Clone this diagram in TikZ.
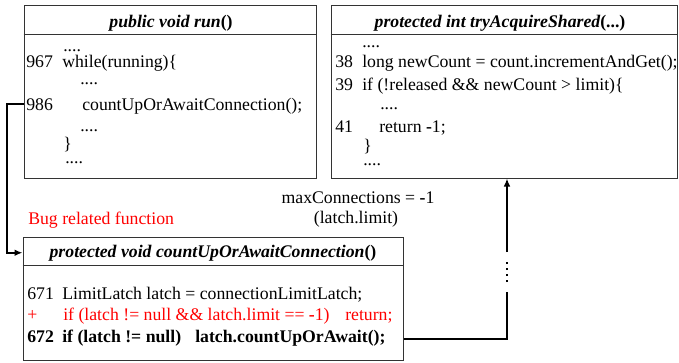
\documentclass[tikz,border=0pt]{standalone}
\usepackage{fontspec}
\setmainfont{Liberation Serif}
\usetikzlibrary{arrows.meta,calc}
\newcommand{\codesize}{\fontsize{13.3}{15}\selectfont}
\begin{document}
\begin{tikzpicture}[x=0.75pt,y=-0.75pt,
  box/.style={draw=black!80, line width=0.75pt, inner sep=0pt},
  rule/.style={draw=black!80, line width=0.75pt},
  code/.style={anchor=base west, inner sep=0pt, font=\codesize},
  boldcode/.style={code, font=\codesize\bfseries},
  hdr/.style={anchor=base, inner sep=0pt, font=\codesize\bfseries},
  lbl/.style={anchor=base, inner sep=0pt, font=\codesize},
  redtext/.style={text=red},
  wire/.style={line width=1.2pt, black},
  conn/.style={wire, -{Latex[length=6pt,width=5pt]}},
  dotwire/.style={line width=1.5pt, dash pattern=on 1.5pt off 3pt}
]
\useasboundingbox (0,0) rectangle (679,362);

% boxes
\node[box, minimum width=219pt, minimum height=129.75pt] (box1) at (170,91.5) {};
\node[box, minimum width=259.5pt, minimum height=129.75pt] (box2) at (504,91.5) {};
\node[box, minimum width=285pt, minimum height=92.25pt] (box3) at (213,298.5) {};
\draw[rule] ($(box1.north west)+(0,29.5)$) -- ($(box1.north east)+(0,29.5)$);
\draw[rule] ($(box2.north west)+(0,29.5)$) -- ($(box2.north east)+(0,29.5)$);
\draw[rule] ($(box3.north west)+(0,29)$) -- ($(box3.north east)+(0,29)$);

% headers
\node[hdr] (hdr1) at (171,27) {\itshape public void run\upshape()};
\node[hdr] (hdr2) at (500,27) {\itshape protected int tryAcquireShared\upshape(...)};
\node[hdr] (hdr3) at (213,257) {\itshape protected void countUpOrAwaitConnection\upshape()};

% box 1 code
\node[code] (a1) at (63,51) {....};
\node[code] (n967) at (26,67) {967};
\node[code] (a2) at (62,67) {while(running)\{};
\node[code] (a3) at (80,84) {....};
\node[code] (n986) at (26,110) {986};
\node[code] (a4) at (82,110) {countUpOrAwaitConnection();};
\node[code] (a5) at (80,131) {....};
\node[code] (a6) at (63,149) {\}};
\node[code] (a7) at (65,163) {....};

% box 2 code
\node[code] (b1) at (362,47) {....};
\node[code] (n38) at (335,67) {38};
\node[code] (b2) at (362,67) {long newCount = count.incrementAndGet();};
\node[code] (n39) at (335,90) {39};
\node[code] (b3) at (362,90) {if (!released \&\& newCount > limit)\{};
\node[code] (b4) at (380,109) {....};
\node[code] (n41) at (335,132) {41};
\node[code] (b5) at (379,132) {return {\bfseries -}1;};
\node[code] (b6) at (363,151) {\}};
\node[code] (b7) at (363,165) {....};

% box 3 code
\node[code] (n671) at (27,299) {671};
\node[code] (c1) at (62,299) {LimitLatch latch = connectionLimitLatch;};
\node[code, redtext] (plus) at (27,320) {+};
\node[code, redtext] (c2) at (63,320) {if (latch != null \&\& latch.limit == {\bfseries -}1)};
\node[code, redtext] (c3) at (345,320) {return;};
\node[boldcode] (n672) at (27,342) {672};
\node[boldcode] (c4) at (62,342) {if (latch != null)};
\node[boldcode] (c5) at (195,342) {latch.countUpOrAwait();};

% labels
\node[code, redtext] (bug) at (28,224) {Bug related function};
\node[lbl] (mc) at (358,203) {maxConnections = {\bfseries -}1};
\node[lbl] (ll) at (356,223) {(latch.limit)};

% left connector
\coordinate (lx) at (7,0);
\draw[conn] (box1.west |- n986) -- (lx |- n986) -- (lx |- hdr3) -- (box3.west |- hdr3);

% right connector
\coordinate (rc) at (507,339);
\coordinate (gapA) at (507,292);
\coordinate (dotA) at (507,282);
\coordinate (dotB) at (507,261);
\coordinate (gapB) at (507,252);
\draw[wire] (box3.east |- rc) -- (rc) -- (gapA);
\draw[dotwire] (dotA) -- (dotB);
\draw[conn] (gapB) -- (box2.south -| rc);
\end{tikzpicture}
\end{document}
